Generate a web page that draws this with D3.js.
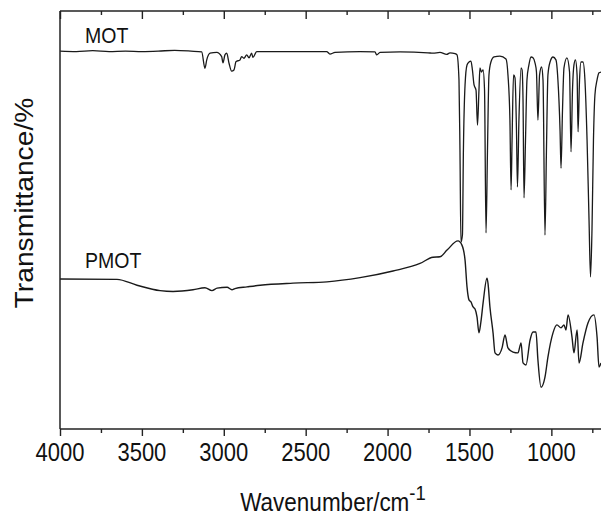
<!DOCTYPE html>
<html><head><meta charset="utf-8">
<script src="https://cdn.jsdelivr.net/npm/d3@7"></script>
<style>
html,body{margin:0;padding:0;background:#fff;}
svg text{font-family:"Liberation Sans",Arial,sans-serif;fill:#111;}
</style></head>
<body><svg id="chart" width="601" height="517"></svg>
<script>
// ---- data ----
const xMajorTicks = [4000, 3500, 3000, 2500, 2000, 1500, 1000];
const xMinorTicks = [3750, 3250, 2750, 2250, 1750, 1250, 750];
const seriesNames = ["MOT", "PMOT"];

const motWavenumber = [4000,3900,3800,3700,3600,3500,3400,3300,3200,3135,3115,3104,3084,3043,3013,3005,2993,2982,2968,2952,2938,2925,2901,2891,2877,2860,2846,2830,2822,2799,2596,2372,2352,2321,2168,2077,2066,2046,1924,1753,1723,1680,1639,1619,1588,1576,1564,1558,1552,1543,1537,1527,1515,1503,1491,1482,1472,1460,1451,1442,1436,1427,1417,1408,1399,1390,1381,1369,1350,1314,1277,1265,1253,1246,1240,1231,1222,1213,1207,1198,1185,1179,1173,1167,1158,1149,1137,1124,1112,1100,1091,1082,1072,1060,1051,1039,1030,1021,1008,990,972,960,947,941,932,923,905,889,880,871,862,853,843,837,828,819,807,795,782,770,761,752,743,734,721,709,697];
const motTransmittance = [90.4,90.3,90.5,90.3,90.4,90.3,90.4,90.6,90.4,90.2,86.3,88.3,89.9,90.1,89.1,87.6,89.5,89.9,87.5,85.6,85.9,87.9,88.3,89.1,88.7,89.5,88.8,89.9,88.9,90.3,90.3,90.3,89.7,90.1,90.3,90.2,89.5,90.1,90.2,90.0,89.9,90.1,89.6,90.0,89.8,89.5,83.5,66.7,44.7,46.4,66.7,82.3,87.1,87.8,88.0,85.9,82.3,81.1,72.7,81.1,86.4,85.4,85.9,81.1,46.9,66.7,84.7,87.8,89.0,89.2,88.5,84.7,73.9,57.2,68.9,84.7,84.0,71.5,57.9,73.9,86.4,85.9,78.7,55.3,68.9,83.5,87.1,89.0,88.8,87.6,85.4,73.9,84.7,86.6,83.5,46.4,66.7,84.7,87.8,89.0,88.3,83.5,71.5,62.4,76.3,86.4,88.8,85.4,66.3,81.1,87.1,88.3,84.7,71.1,83.5,87.8,87.8,83.5,69.1,50.0,36.4,47.6,69.1,79.9,83.5,85.2,85.4];

const pmotWavenumber = [4000,3652,3530,3389,3310,3188,3115,3072,3041,2980,2950,2932,2858,2778,2577,2370,2168,1967,1802,1723,1680,1637,1570,1546,1527,1515,1503,1491,1478,1466,1454,1442,1430,1417,1393,1387,1375,1356,1344,1326,1301,1283,1265,1234,1204,1185,1173,1155,1130,1112,1094,1082,1063,1039,1021,990,966,941,923,911,898,874,862,843,831,807,776,740,721,709,697];
const pmotTransmittance = [35.9,35.8,34.4,33.1,32.9,33.3,33.8,33.1,33.7,33.9,33.3,33.6,34.0,34.4,34.9,35.2,36.2,37.8,39.6,41.1,41.2,42.8,45.0,44.0,40.4,34.0,30.9,30.4,29.2,28.7,26.8,23.0,25.7,30.1,36.1,34.9,29.2,23.0,18.2,17.7,19.4,22.5,19.4,18.4,18.2,20.6,15.8,15.3,21.3,23.2,23.2,16.5,10.0,12.4,17.2,23.0,24.9,24.2,24.9,23.7,27.3,22.0,18.2,23.7,15.8,20.6,25.4,27.3,22.0,14.8,15.8];

// ---- layout ----
const svg = d3.select("#chart");
const mLeft = 60, mRight = 600.5, mTop = 11, mBottom = 429;
const x = d3.scaleLinear().domain([4000, 700]).range([mLeft, mRight]);
const y = d3.scaleLinear().domain([0, 100]).range([mBottom, mTop]);
const stretch = 1.13;

svg.append("defs").append("clipPath").attr("id", "clip")
  .append("rect").attr("x", mLeft).attr("y", mTop).attr("width", 601 - mLeft).attr("height", mBottom - mTop);

const line = d3.line().x(d => x(d[0])).y(d => y(d[1])).curve(d3.curveMonotoneX);
const g = svg.append("g").attr("clip-path", "url(#clip)");
g.append("path").datum(motWavenumber.map((w, i) => [w, motTransmittance[i]]))
  .attr("d", line).attr("fill", "none").attr("stroke", "#1a1a1a").attr("stroke-width", 1.3).attr("stroke-linejoin", "round");
g.append("path").datum(pmotWavenumber.map((w, i) => [w, pmotTransmittance[i]]))
  .attr("d", line).attr("fill", "none").attr("stroke", "#1a1a1a").attr("stroke-width", 1.4).attr("stroke-linejoin", "round");

// axes
const axisColor = "#222";
function tickRow(values, yPos, size) {
  const a = svg.append("g").attr("transform", `translate(0,${yPos})`)
    .call(d3.axisBottom(x).tickValues(values).tickSize(size).tickFormat(() => ""));
  a.select(".domain").remove();
  a.selectAll(".tick line").attr("stroke", axisColor).attr("stroke-width", 1.4);
}
tickRow(xMajorTicks, mBottom, 7);
tickRow(xMinorTicks, mBottom, 4);
tickRow(xMajorTicks, mTop, 8);
tickRow(xMinorTicks, mTop, 4);

svg.append("line").attr("x1", mLeft).attr("x2", 601).attr("y1", mBottom).attr("y2", mBottom).attr("stroke", axisColor).attr("stroke-width", 1.5);
svg.append("line").attr("x1", mLeft).attr("x2", 601).attr("y1", mTop).attr("y2", mTop).attr("stroke", axisColor).attr("stroke-width", 1.5);
svg.append("line").attr("x1", mLeft).attr("x2", mLeft).attr("y1", mTop).attr("y2", mBottom).attr("stroke", axisColor).attr("stroke-width", 1.5);

// tick labels
svg.append("g").selectAll("text").data(xMajorTicks).join("text")
  .attr("transform", d => `translate(${x(d)},461) scale(1,${stretch})`)
  .attr("text-anchor", "middle").attr("font-size", 22).text(d => d);

// axis titles
const xt = svg.append("text").attr("transform", `translate(333,511) scale(1,${stretch})`)
  .attr("text-anchor", "middle").attr("font-size", 22.5);
xt.append("tspan").text("Wavenumber/cm");
xt.append("tspan").attr("font-size", 18.5).attr("dy", -9.5).text("-1");

svg.append("text").attr("transform", `translate(33,203) rotate(-90) scale(${stretch},1)`)
  .attr("text-anchor", "middle").attr("font-size", 25).text("Transmittance/%");

// series labels
svg.append("text").attr("transform", `translate(85,43) scale(1,${stretch})`).attr("font-size", 19.5).text(seriesNames[0]);
svg.append("text").attr("transform", `translate(85,268) scale(1,${stretch})`).attr("font-size", 19.5).text(seriesNames[1]);
</script></body></html>
